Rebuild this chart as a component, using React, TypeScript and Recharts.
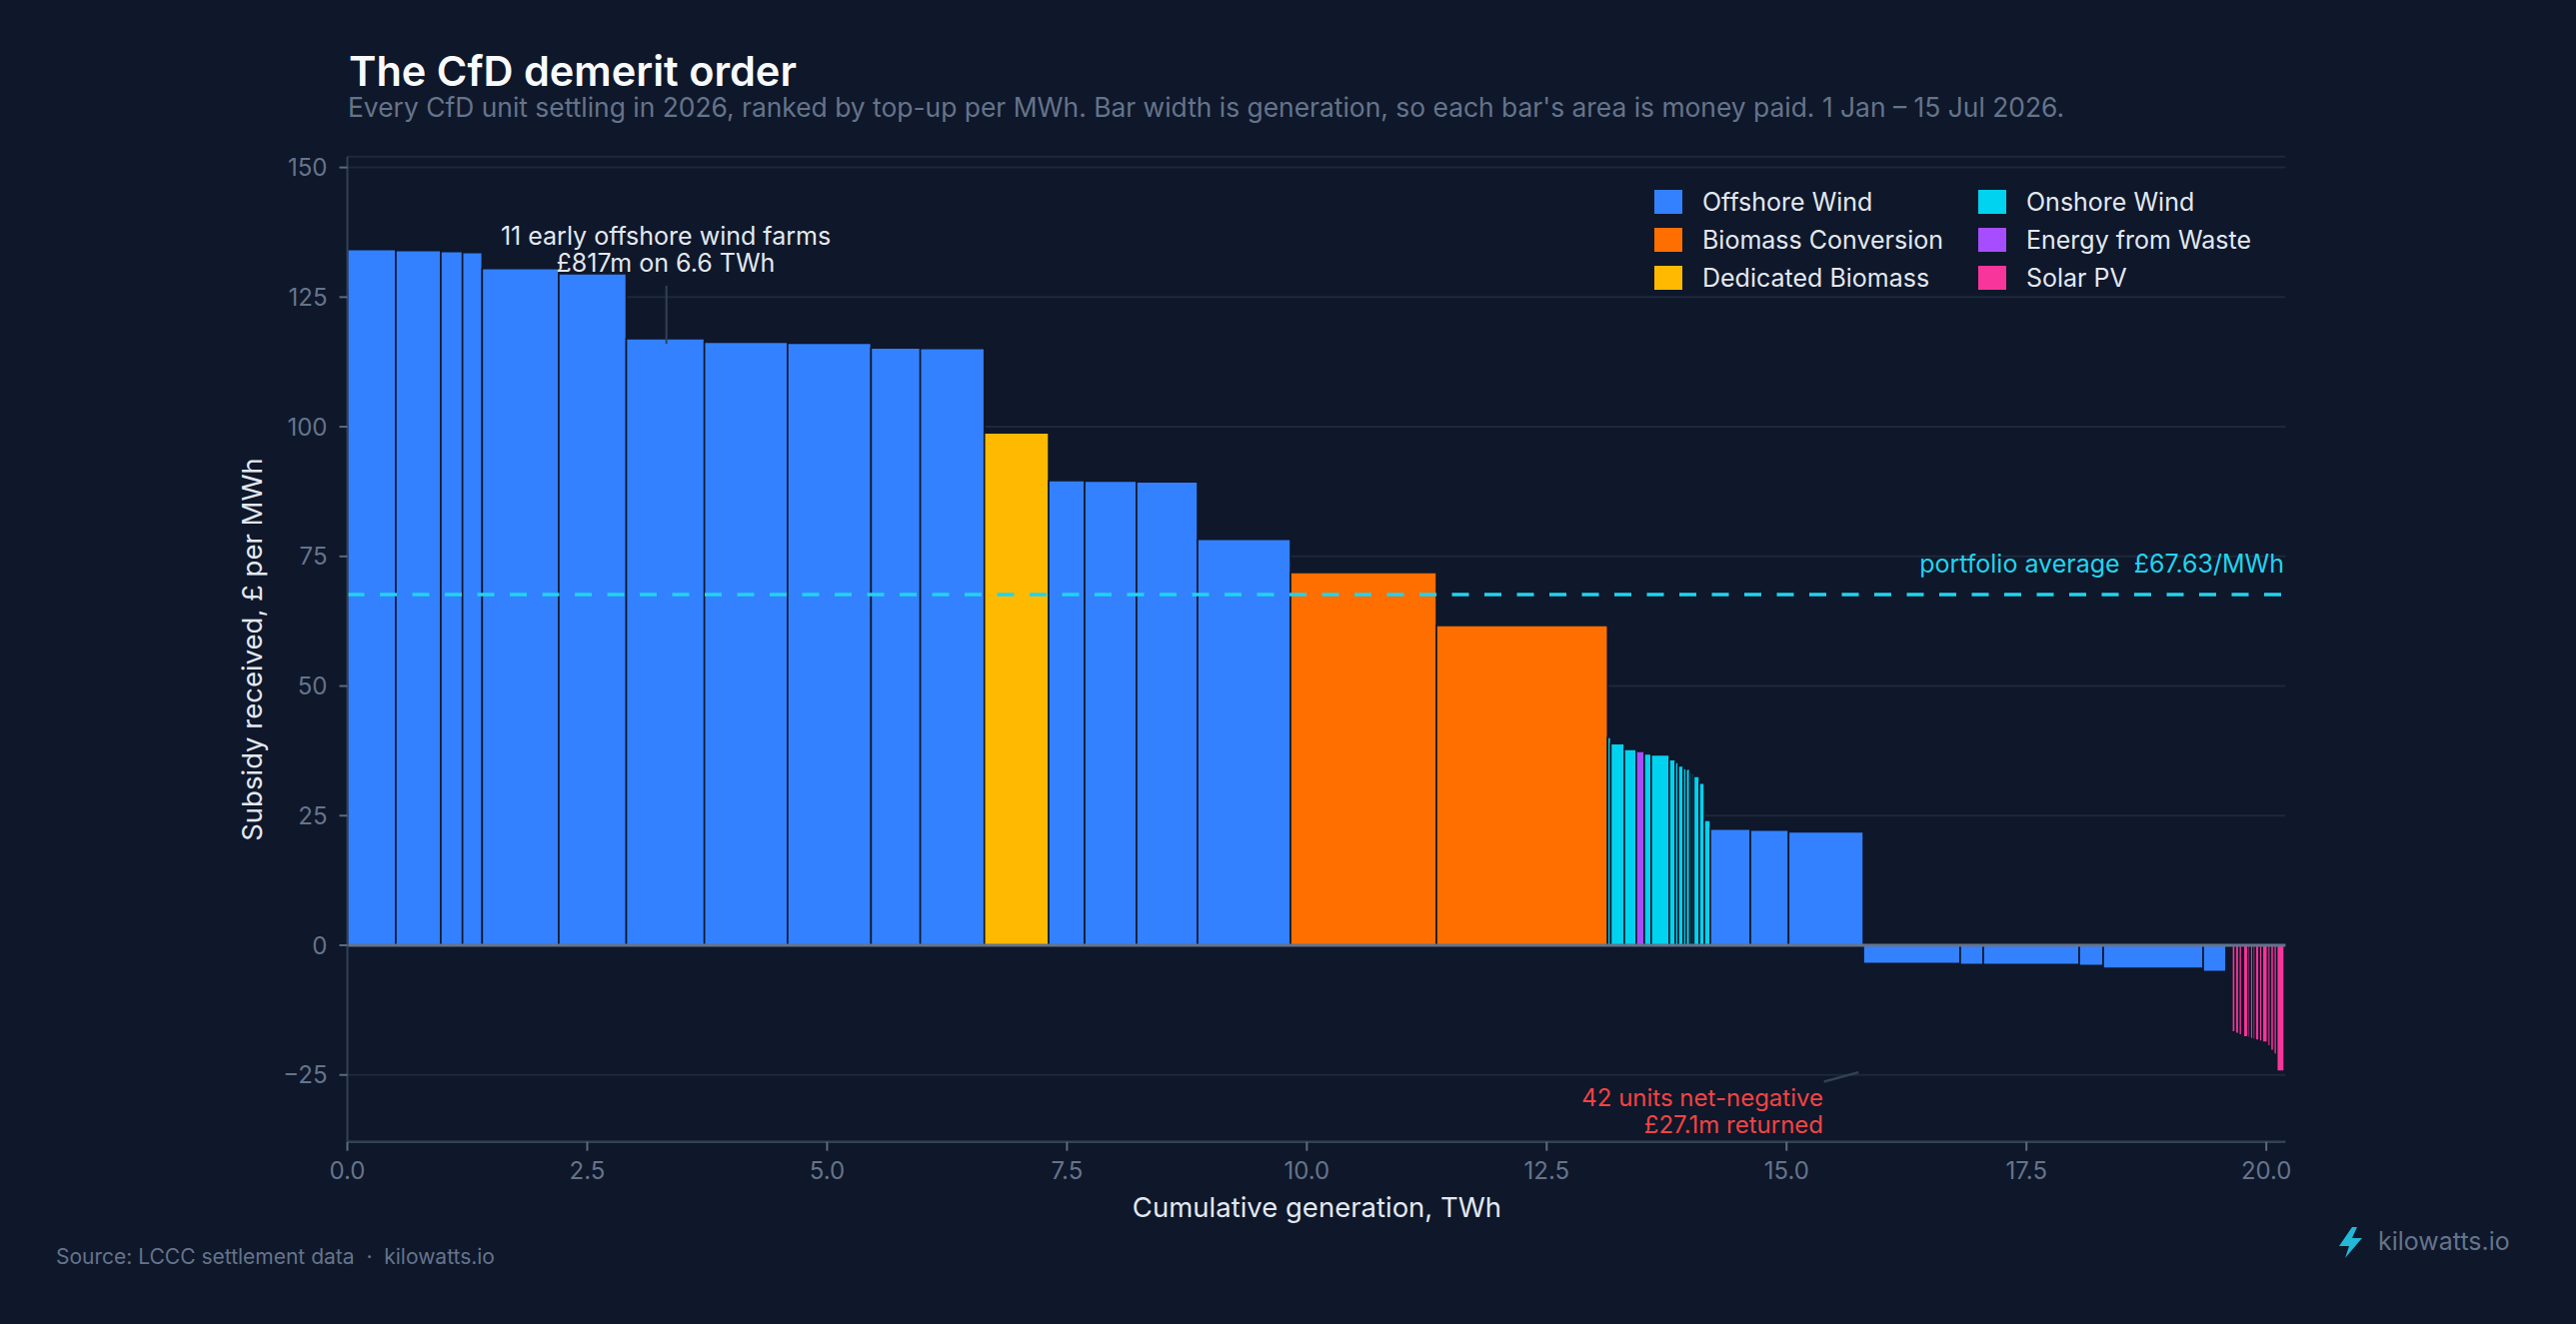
import { ComposedChart, Line, XAxis, YAxis, CartesianGrid, ReferenceArea, ReferenceLine } from 'recharts'

document.body.style.margin = '0'
document.body.style.background = '#0f172a'

const techKeys = ['OFW', 'BIO', 'DED', 'ONW', 'EFW', 'SPV']
const techNames = ['Offshore Wind', 'Biomass Conversion', 'Dedicated Biomass', 'Onshore Wind', 'Energy from Waste', 'Solar PV']
const techColors = ['#3381ff', '#ff6f00', '#ffba00', '#00d3ef', '#a64dff', '#f8359b']

// one entry per CfD unit, already ranked by top-up per MWh
const unitTech = [
  'OFW', 'OFW', 'OFW', 'OFW', 'OFW', 'OFW', 'OFW', 'OFW', 'OFW', 'OFW', 'OFW',
  'DED', 'OFW', 'OFW', 'OFW', 'OFW', 'BIO', 'BIO',
  'ONW', 'ONW', 'ONW', 'EFW', 'ONW', 'ONW', 'ONW', 'ONW', 'ONW', 'ONW', 'ONW', 'ONW', 'ONW', 'ONW', 'ONW', 'ONW',
  'OFW', 'OFW', 'OFW',
  'OFW', 'OFW', 'OFW', 'OFW', 'OFW', 'OFW',
  'SPV', 'SPV', 'SPV', 'SPV', 'SPV', 'SPV', 'SPV', 'SPV', 'SPV', 'SPV', 'SPV', 'SPV', 'SPV', 'SPV', 'SPV', 'SPV', 'SPV', 'SPV', 'SPV',
]
const unitGenTWh = [
  0.505, 0.469, 0.226, 0.205, 0.798, 0.704, 0.814, 0.867, 0.87, 0.513, 0.668,
  0.67, 0.375, 0.541, 0.636, 0.969, 1.521, 1.784,
  0.033, 0.141, 0.124, 0.084, 0.072, 0.189, 0.063, 0.031, 0.052, 0.029, 0.039, 0.02, 0.02, 0.059, 0.052, 0.063,
  0.417, 0.398, 0.779,
  1.01, 0.24, 1.0, 0.25, 1.042, 0.24,
  0.015, 0.015, 0.015, 0.015, 0.036, 0.036, 0.031, 0.016, 0.047, 0.024, 0.028, 0.026, 0.04, 0.033, 0.055, 0.03, 0.034, 0.031, 0.078,
]
const unitTopUp = [
  134.2, 134.0, 133.8, 133.6, 130.5, 129.5, 117.0, 116.3, 116.1, 115.2, 115.1,
  98.8, 89.6, 89.5, 89.4, 78.3, 71.9, 61.7,
  40.1, 38.9, 37.8, 37.4, 36.9, 36.7, 35.8, 35.3, 34.6, 34.1, 34.0, 33.4, 33.1, 32.6, 31.3, 24.1,
  22.4, 22.2, 21.9,
  -3.5, -3.7, -3.7, -3.9, -4.45, -5.05,
  -16.2, -16.3, -16.5, -16.6, -16.7, -17.0, -17.3, -17.5, -17.7, -17.8, -18.0, -18.1, -18.3, -18.5, -18.7, -19.4, -20.3, -21.0, -24.3,
]

const portfolioAverage = 67.63
const xTicks = [0, 2.5, 5, 7.5, 10, 12.5, 15, 17.5, 20]
const yTicks = [-25, 0, 25, 50, 75, 100, 125, 150]

let cumulative = 0
const units = unitGenTWh.map((gen, i) => {
  const start = cumulative
  cumulative += gen
  return { start, end: cumulative, topUp: unitTopUp[i], tech: unitTech[i] }
})

const colorOf = (key: string) => techColors[techKeys.indexOf(key)]

const BG = '#0f172a'
const MUTED = '#64748b'
const LIGHT = '#e2e8f0'

export default function App() {
  return (
    <div style={{ position: 'relative', width: 2577, height: 1325, background: BG, fontFamily: 'Inter, sans-serif', overflow: 'hidden' }}>
      <ComposedChart
        width={2577}
        height={1325}
        data={units}
        margin={{ top: 156.7, right: 290.6, bottom: 122.3, left: 247.5 }}
      >
        <CartesianGrid vertical={false} stroke="#1e293b" strokeWidth={2} />
        <XAxis
          type="number"
          dataKey="start"
          domain={[0, 20.2]}
          ticks={xTicks}
          allowDataOverflow
          tickFormatter={(v) => v.toFixed(1)}
          tick={{ fill: MUTED, fontSize: 24, fontFamily: 'Inter' }}
          axisLine={{ stroke: '#334155', strokeWidth: 2.5 }}
          tickLine={{ stroke: '#5b6b80', strokeWidth: 2 }}
          tickSize={9}
          tickMargin={11}
          height={60}
        />
        <YAxis
          type="number"
          domain={[-37.9, 152.1]}
          ticks={yTicks}
          allowDataOverflow
          tickFormatter={(v) => (v < 0 ? `\u2212${Math.abs(v)}` : `${v}`)}
          tick={{ fill: MUTED, fontSize: 24, fontFamily: 'Inter' }}
          axisLine={{ stroke: '#334155', strokeWidth: 2 }}
          tickLine={{ stroke: '#5b6b80', strokeWidth: 2 }}
          tickSize={8}
          tickMargin={12}
          width={100}
        />
        {units.map((u, i) => (
          <ReferenceArea
            key={i}
            x1={u.start}
            x2={u.end}
            y1={0}
            y2={u.topUp}
            fill={colorOf(u.tech)}
            fillOpacity={1}
            stroke={BG}
            strokeWidth={1.6}
            ifOverflow="visible"
          />
        ))}
        <ReferenceLine y={0} stroke={MUTED} strokeWidth={3} />
        <ReferenceLine y={portfolioAverage} stroke="#22d3ee" strokeWidth={3.5} strokeDasharray="17 15.5" />
        <ReferenceLine segment={[{ x: 3.325, y: 116 }, { x: 3.325, y: 127.2 }]} stroke="#334155" strokeWidth={2} />
        <ReferenceLine segment={[{ x: 15.39, y: -26.3 }, { x: 15.75, y: -24.5 }]} stroke="#334155" strokeWidth={2.5} />
        <Line dataKey="topUp" stroke="none" dot={false} activeDot={false} legendType="none" isAnimationActive={false} />
      </ComposedChart>

      <svg width={2577} height={1325} style={{ position: 'absolute', left: 0, top: 0, pointerEvents: 'none' }}>
        <text x={349} y={86} fontSize={41.5} fontWeight={600} fill="#f8fafc">The CfD demerit order</text>
        <text x={348} y={117} fontSize={26.4} fill={MUTED}>
          Every CfD unit settling in 2026, ranked by top-up per MWh. Bar width is generation, so each bar's area is money paid. 1 Jan – 15 Jul 2026.
        </text>

        <text x={262} y={650} fontSize={27.5} fill={LIGHT} textAnchor="middle" transform="rotate(-90 262 650)">
          Subsidy received, £ per MWh
        </text>
        <text x={1317.5} y={1217.7} fontSize={27.5} fill={LIGHT} textAnchor="middle">Cumulative generation, TWh</text>

        {techNames.map((name, i) => {
          const col = Math.floor(i / 3)
          const row = i % 3
          const x = 1655 + col * 324
          const cy = 202 + row * 38
          return (
            <g key={name}>
              <rect x={x} y={cy - 12} width={28} height={24} fill={techColors[i]} />
              <text x={x + 48} y={cy + 9} fontSize={25} fill={LIGHT}>{name}</text>
            </g>
          )
        })}

        <text x={2285} y={573} fontSize={25} fill="#22d3ee" textAnchor="end">
          {'portfolio average\u00a0\u00a0£67.63/MWh'}
        </text>

        <text x={666} y={245} fontSize={25} fill={LIGHT} textAnchor="middle">11 early offshore wind farms</text>
        <text x={666} y={272} fontSize={25} fill={LIGHT} textAnchor="middle">£817m on 6.6 TWh</text>

        <text x={1824} y={1107} fontSize={24} fill="#ef4444" textAnchor="end">42 units net-negative</text>
        <text x={1824} y={1134} fontSize={24} fill="#ef4444" textAnchor="end">£27.1m returned</text>

        <text x={56} y={1265} fontSize={21} fill={MUTED}>
          {'Source: LCCC settlement data\u00a0\u00a0·\u00a0\u00a0kilowatts.io'}
        </text>

        <path d="M2353 1228 L2340 1247 L2350 1247 L2346 1259 L2363 1239 L2353 1239 L2358 1228 Z" fill="#22b8d8" />
        <text x={2379} y={1251} fontSize={25} fill={MUTED}>kilowatts.io</text>
      </svg>
    </div>
  )
}
